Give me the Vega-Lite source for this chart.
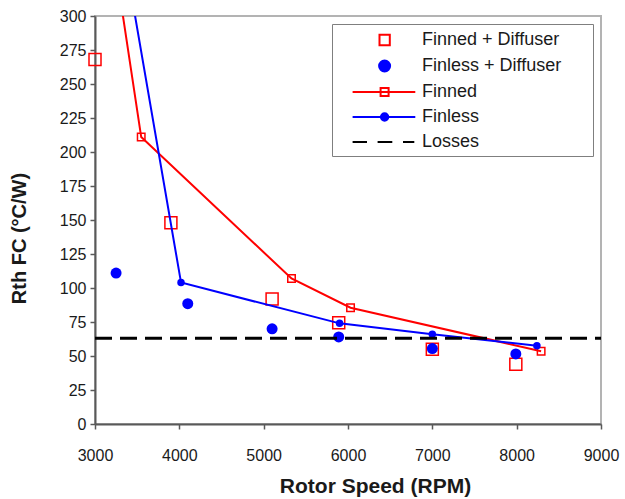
{
  "$schema": "https://vega.github.io/schema/vega-lite/v6.json",
  "width": 506,
  "height": 408,
  "autosize": {"type": "none"},
  "padding": {"left": 95, "top": 16, "right": 24, "bottom": 75},
  "background": "white",
  "config": {
    "view": {"stroke": "#b3b3b3", "strokeWidth": 2},
    "font": "Liberation Sans",
    "axis": {
      "grid": false,
      "domainColor": "#595959",
      "domainWidth": 2,
      "tickColor": "#595959",
      "tickWidth": 1.5,
      "tickSize": 5,
      "labelFont": "Liberation Sans",
      "labelFontSize": 16,
      "labelColor": "#1a1a1a",
      "labelFlush": false,
      "labelOverlap": false,
      "titleFont": "Liberation Sans",
      "titleFontSize": 21,
      "titleFontWeight": "bold",
      "titleColor": "#1a1a1a"
    },
    "legend": {
      "padding": 5,
      "strokeColor": "#7f7f7f",
      "fillColor": "white",
      "symbolSize": 400,
      "symbolStrokeWidth": 2,
      "labelFont": "Liberation Sans",
      "labelFontSize": 18,
      "labelColor": "#1a1a1a",
      "labelOffset": 63,
      "labelLimit": 0,
      "rowPadding": 5
    }
  },
  "data": {
    "values": [
      {"series": "Finned + Diffuser", "rpm": 3000, "rth": 268},
      {"series": "Finned + Diffuser", "rpm": 3900, "rth": 148},
      {"series": "Finned + Diffuser", "rpm": 5100, "rth": 92},
      {"series": "Finned + Diffuser", "rpm": 5890, "rth": 74.5},
      {"series": "Finned + Diffuser", "rpm": 7000, "rth": 55},
      {"series": "Finned + Diffuser", "rpm": 7990, "rth": 44},
      {"series": "Finless + Diffuser", "rpm": 3250, "rth": 111},
      {"series": "Finless + Diffuser", "rpm": 4100, "rth": 88.5},
      {"series": "Finless + Diffuser", "rpm": 5100, "rth": 70},
      {"series": "Finless + Diffuser", "rpm": 5890, "rth": 64},
      {"series": "Finless + Diffuser", "rpm": 7000, "rth": 55.5},
      {"series": "Finless + Diffuser", "rpm": 7990, "rth": 51.5},
      {"series": "Finned", "rpm": 3200, "rth": 354},
      {"series": "Finned", "rpm": 3548, "rth": 211},
      {"series": "Finned", "rpm": 5330, "rth": 107},
      {"series": "Finned", "rpm": 6030, "rth": 85.5},
      {"series": "Finned", "rpm": 8290, "rth": 53.5},
      {"series": "Finless", "rpm": 3300, "rth": 363},
      {"series": "Finless", "rpm": 4020, "rth": 104},
      {"series": "Finless", "rpm": 5900, "rth": 74},
      {"series": "Finless", "rpm": 7000, "rth": 66},
      {"series": "Finless", "rpm": 8240, "rth": 57.5},
      {"series": "Losses", "rpm": 3000, "rth": 63},
      {"series": "Losses", "rpm": 9000, "rth": 63}
    ]
  },
  "encoding": {
    "x": {
      "field": "rpm",
      "type": "quantitative",
      "scale": {"domain": [3000, 9000], "nice": false, "zero": false},
      "axis": {
        "title": "Rotor Speed (RPM)",
        "values": [3000, 4000, 5000, 6000, 7000, 8000, 9000],
        "format": "d",
        "labelPadding": 18,
        "titlePadding": 12,
        "titleX": 280
      }
    },
    "y": {
      "field": "rth",
      "type": "quantitative",
      "scale": {"domain": [0, 300], "nice": false},
      "axis": {
        "title": "Rth FC (°C/W)",
        "titleFontSize": 20,
        "values": [0, 25, 50, 75, 100, 125, 150, 175, 200, 225, 250, 275, 300],
        "labelPadding": 4,
        "titlePadding": 30,
        "titleY": 222
      }
    }
  },
  "layer": [
    {
      "transform": [{"filter": "datum.series == 'Finned + Diffuser'"}],
      "mark": {"type": "point", "shape": "square", "filled": false, "size": 144, "color": "#ff0000", "strokeWidth": 1.5, "opacity": 1}
    },
    {
      "transform": [{"filter": "datum.series == 'Finless + Diffuser'"}],
      "mark": {"type": "point", "shape": "circle", "filled": true, "size": 121, "color": "#0000ff", "opacity": 1}
    },
    {
      "transform": [{"filter": "datum.series == 'Finned'"}],
      "mark": {"type": "line", "color": "#ff0000", "strokeWidth": 2, "clip": true},
      "encoding": {}
    },
    {
      "transform": [{"filter": "datum.series == 'Finned' && datum.rth <= 300"}],
      "mark": {"type": "point", "shape": "square", "filled": false, "size": 56, "color": "#ff0000", "strokeWidth": 1.5, "opacity": 1}
    },
    {
      "transform": [{"filter": "datum.series == 'Finless'"}],
      "mark": {"type": "line", "color": "#0000ff", "strokeWidth": 2, "clip": true},
      "encoding": {}
    },
    {
      "transform": [{"filter": "datum.series == 'Finless' && datum.rth <= 300"}],
      "mark": {"type": "point", "shape": "circle", "filled": true, "size": 56, "color": "#0000ff", "opacity": 1}
    },
    {
      "transform": [{"filter": "datum.series == 'Losses'"}],
      "mark": {"type": "line", "color": "#000000", "strokeWidth": 3, "strokeDash": [17, 8]},
      "encoding": {}
    },
    {
      "mark": {"type": "point", "opacity": 0, "clip": true, "filled": true},
      "encoding": {
        "shape": {
          "field": "series",
          "type": "nominal",
          "title": null,
          "scale": {
            "domain": ["Finned + Diffuser", "Finless + Diffuser", "Finned", "Finless", "Losses"],
            "range": [
              "M3.15,-0.515H4.18V0.515H3.15Z",
              "M3.11,0A0.55,0.55,0,1,0,4.21,0A0.55,0.55,0,1,0,3.11,0Z",
              "M0.46,0H6.73M3.26,-0.4H4.06V0.4H3.26Z",
              "M0.46,0H6.73M3.29,0A0.37,0.37,0,1,0,4.03,0A0.37,0.37,0,1,0,3.29,0Z",
              "M0.46,0H1.9M2.96,0H4.43M5.5,0H6.63M23.6,0"
            ]
          },
          "legend": {
            "orient": "none", "legendX": 237, "legendY": 8, "title": null,
            "encode": {"symbols": {"update": {"fill": {"scale": "fill", "field": "value"}, "stroke": {"scale": "stroke", "field": "value"}}}}
          }
        },
        "fill": {
          "field": "series",
          "type": "nominal",
          "title": null,
          "scale": {
            "domain": ["Finned + Diffuser", "Finless + Diffuser", "Finned", "Finless", "Losses"],
            "range": ["transparent", "#0000ff", "transparent", "#0000ff", "transparent"]
          },
          "legend": {
            "orient": "none", "legendX": 237, "legendY": 8, "title": null,
            "encode": {"symbols": {"update": {"fill": {"scale": "fill", "field": "value"}, "stroke": {"scale": "stroke", "field": "value"}}}}
          }
        },
        "stroke": {
          "field": "series",
          "type": "nominal",
          "title": null,
          "scale": {
            "domain": ["Finned + Diffuser", "Finless + Diffuser", "Finned", "Finless", "Losses"],
            "range": ["#ff0000", "#0000ff", "#ff0000", "#0000ff", "#000000"]
          },
          "legend": {
            "orient": "none", "legendX": 237, "legendY": 8, "title": null,
            "encode": {"symbols": {"update": {"fill": {"scale": "fill", "field": "value"}, "stroke": {"scale": "stroke", "field": "value"}}}}
          }
        }
      }
    }
  ]
}
